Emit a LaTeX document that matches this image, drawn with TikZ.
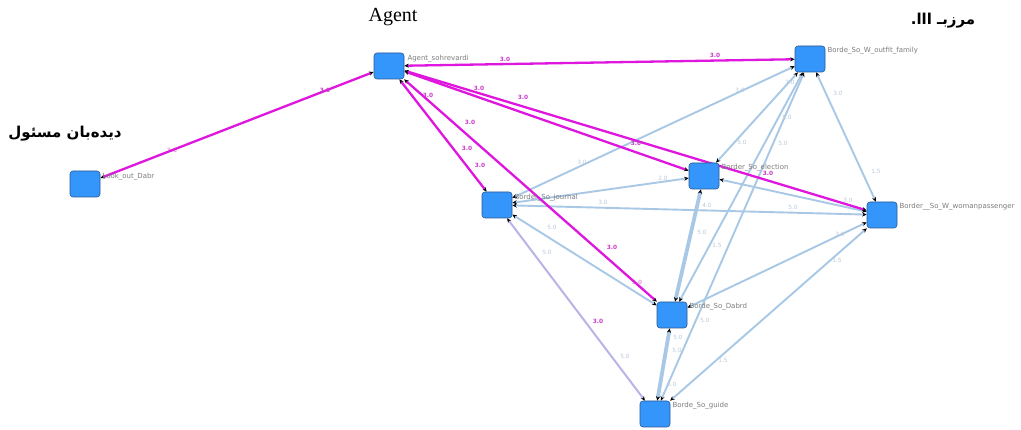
\documentclass[tikz,border=0pt]{standalone}
\usepackage{fontspec}
\setmainfont{Liberation Serif}
\newfontfamily\lblfont{DejaVu Sans}
\newfontfamily\arabicfont[Script=Arabic]{DejaVu Sans}
\TeXXeTstate=1
\usetikzlibrary{arrows.meta}
\definecolor{nodeblue}{RGB}{52,150,250}
\definecolor{nodeedge}{RGB}{40,90,150}
\definecolor{magline}{RGB}{222,22,222}
\definecolor{blueline}{RGB}{168,200,230}
\definecolor{lavline}{RGB}{185,180,232}
\definecolor{maglbl}{RGB}{200,60,200}
\definecolor{faintlbl}{RGB}{185,200,218}
\definecolor{graylbl}{RGB}{125,125,125}
\pgfdeclarelayer{bg}
\pgfsetlayers{bg,main}
\tikzset{
  agentbox/.style={draw=nodeedge, fill=nodeblue, rounded corners=3pt, minimum width=30pt, minimum height=26pt, inner sep=0pt, line width=0.6pt},
  namelbl/.style={font=\lblfont\fontsize{7}{8}\selectfont, text=graylbl, anchor=north west, inner sep=0pt},
  tip/.style={{Stealth[length=4.5pt,width=4pt,color=black]}-{Stealth[length=4.5pt,width=4pt,color=black]}},
  magedge/.style={tip, draw=magline, line width=2.3pt},
  blueedge/.style={tip, draw=blueline, line width=1.9pt},
  thickedge/.style={tip, draw=blueline, line width=3.8pt},
  lavedge/.style={tip, draw=lavline, line width=2pt},
  mlbl/.style={font=\lblfont\bfseries\fontsize{5.8}{7}\selectfont, text=maglbl, inner sep=0pt},
  flbl/.style={font=\lblfont\fontsize{5.8}{7}\selectfont, text=faintlbl, inner sep=0pt},
  arabtitle/.style={font=\arabicfont\bfseries\fontsize{15}{18}\selectfont, inner sep=0pt},
}
\begin{document}
\begin{tikzpicture}[x=1pt,y=-1pt]
\useasboundingbox (0,0) rectangle (1021,430);

% titles
\node[font=\fontsize{20}{24}\selectfont, inner sep=0pt] (ttlagent) at (393,17) {Agent};
\node[arabtitle] (ttllook) at (65,134) {\beginR دیده‌بان مسئول\endR};
\node[arabtitle] (ttlborder) at (943,21) {\beginR مرزبـ ااا.\endR};

% nodes
\node[agentbox] (agent) at (389,66) {};
\node[agentbox] (look) at (85,184) {};
\node[agentbox] (journal) at (497,205) {};
\node[agentbox] (outfit) at (810,59) {};
\node[agentbox] (election) at (704,176) {};
\node[agentbox] (woman) at (882,215) {};
\node[agentbox] (dabrd) at (672,315) {};
\node[agentbox] (guide) at (655,414) {};

% node names
\node[namelbl] (agentname) at ([xshift=3pt,yshift=-2pt]agent.north east) {Agent\_sohrevardi};
\node[namelbl] (lookname) at ([xshift=2pt,yshift=-2pt]look.north east) {Look\_out\_Dabr};
\node[namelbl] (journalname) at ([xshift=2pt,yshift=-2pt]journal.north east) {Border\_So\_journal};
\node[namelbl] (outfitname) at ([xshift=2pt,yshift=-1pt]outfit.north east) {Borde\_So\_W\_outfit\_family};
\node[namelbl] (electionname) at ([xshift=2pt,yshift=-1pt]election.north east) {Border\_So\_election};
\node[namelbl] (womanname) at ([xshift=2pt,yshift=-1pt]woman.north east) {Border\_\_So\_W\_womanpassenger};
\node[namelbl] (dabrdname) at ([xshift=2pt,yshift=-1pt]dabrd.north east) {Borde\_So\_Dabrd};
\node[namelbl] (guidename) at ([xshift=2pt,yshift=-1pt]guide.north east) {Borde\_So\_guide};

\begin{pgfonlayer}{bg}
\fill[white] (0,0) rectangle (1021,430);
% light blue connectors
\draw[blueedge] (journal) -- (outfit);
\draw[blueedge] (journal) -- (election);
\draw[blueedge] (journal) -- (woman);
\draw[blueedge] (journal) -- (dabrd);
\draw[lavedge] (journal) -- (guide);
\draw[blueedge] (election) -- (outfit);
\draw[blueedge] (dabrd) -- (outfit);
\draw[blueedge] (guide) -- (outfit);
\draw[blueedge] (outfit) -- (woman);
\draw[blueedge] (election) -- (woman);
\draw[thickedge] (dabrd) -- (election);
\draw[blueedge] (dabrd) -- (woman);
\draw[blueedge] (guide) -- (woman);
\draw[thickedge] (guide) -- (dabrd);
% magenta connectors
\draw[magedge] (agent) -- (look);
\draw[magedge] (agent) -- (outfit);
\draw[magedge] (agent) -- (journal);
\draw[magedge] (agent) -- (election);
\draw[magedge] (agent) -- (woman);
\draw[magedge] (agent) -- (dabrd);
\end{pgfonlayer}

% magenta weights
\node[mlbl] (w1) at (325,90) {3.0};
\node[mlbl, opacity=0.5] (w2) at (172,150) {3.0};
\node[mlbl] (w3) at (505,59) {3.0};
\node[mlbl] (w4) at (715,55) {3.0};
\node[mlbl] (w5) at (428,95) {3.0};
\node[mlbl] (w6) at (479,88) {3.0};
\node[mlbl] (w7) at (523,97) {3.0};
\node[mlbl] (w8) at (470,122) {3.0};
\node[mlbl] (w9) at (467,148) {3.0};
\node[mlbl] (w10) at (480,165) {3.0};
\node[mlbl] (w11) at (636,143) {3.0};
\node[mlbl] (w12) at (768,173) {3.0};
\node[mlbl] (w13) at (612,247) {3.0};
\node[mlbl, opacity=0.5] (w14) at (637,282) {3.0};
\node[mlbl] (w15) at (598,321) {3.0};

% faint weights
\node[flbl] (f1) at (740,90) {3.0};
\node[flbl] (f2) at (582,162) {3.0};
\node[flbl] (f3) at (742,142) {5.0};
\node[flbl] (f4) at (787,117) {5.0};
\node[flbl] (f5) at (783,143) {5.0};
\node[flbl] (f6) at (790,82) {3.0};
\node[flbl] (f7) at (838,93) {3.0};
\node[flbl] (f8) at (876,171) {1.5};
\node[flbl] (f9) at (663,178) {2.0};
\node[flbl] (f10) at (603,202) {3.0};
\node[flbl] (f11) at (793,207) {5.0};
\node[flbl] (f12) at (848,200) {3.0};
\node[flbl] (f13) at (707,205) {4.0};
\node[flbl] (f14) at (702,232) {5.0};
\node[flbl] (f15) at (717,245) {1.5};
\node[flbl] (f16) at (840,234) {3.0};
\node[flbl] (f17) at (837,260) {1.5};
\node[flbl] (f18) at (723,360) {1.5};
\node[flbl] (f19) at (552,227) {5.0};
\node[flbl] (f20) at (547,252) {5.0};
\node[flbl] (f21) at (625,356) {5.0};
\node[flbl] (f23) at (678,337) {5.0};
\node[flbl] (f24) at (677,350) {5.0};
\node[flbl] (f25) at (705,320) {5.0};
\node[flbl] (f26) at (672,384) {5.0};
\end{tikzpicture}
\end{document}
